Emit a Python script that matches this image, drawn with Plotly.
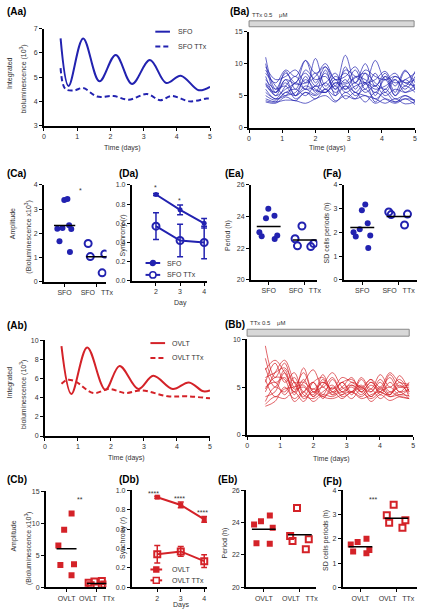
import plotly.graph_objects as go
import numpy as np

W, H = 426, 615
BLUE = "#2222b0"
RED = "#d42228"
FONT = "Liberation Sans, Arial, sans-serif"

# ---------------- data ----------------
# (Aa) SFO integrated bioluminescence (10^3)
aa_t_sfo = [0.5, 0.74, 1.18, 1.67, 2.16, 2.65, 3.19, 3.68, 4.12, 4.66, 5.0]
aa_sfo = [6.6, 4.63, 6.6, 4.83, 5.92, 4.72, 5.71, 4.76, 5.06, 4.46, 4.6]
aa_t_ttx = [0.5, 0.64, 0.9, 1.18, 1.6, 2.1, 2.55, 3.1, 3.5, 3.85, 4.4, 4.9, 5.0]
aa_ttx = [5.37, 4.52, 4.45, 4.55, 4.2, 4.22, 4.07, 4.3, 4.05, 4.22, 4.0, 4.12, 4.12]

# (Ba) single-cell SFO traces under TTx
ba_t = [0.5, 0.8, 1.1, 1.4, 1.7, 2.0, 2.3, 2.6, 2.9, 3.2, 3.5, 3.8, 4.1, 4.4, 4.7, 5.0]
ba_cells = [
    [11, 6, 8.5, 7, 10.5, 7, 9.5, 6.5, 11.3, 7, 10, 6.5, 8.5, 5.5, 8.8, 7],
    [8, 5, 7.5, 5, 8, 5.5, 9, 5, 9.5, 6, 8.5, 5, 8, 5, 7.5, 6],
    [4.5, 4, 4.3, 4.2, 3.8, 4.5, 5, 4, 5.5, 4.5, 5, 3.8, 4.5, 4, 4.5, 3.6],
    [7, 5.5, 8.8, 6, 9, 7.5, 8, 6, 9, 8, 7, 7.5, 8.8, 6.5, 9, 6],
    [6, 4.5, 6.5, 8, 6, 10.8, 6.5, 8, 7, 9, 6, 8.5, 5.5, 7.5, 6, 8],
    [10, 5.5, 7, 5, 6, 5.2, 7, 5.5, 6.5, 5, 6, 4.5, 5.5, 4, 5, 4.2],
    [5, 4.3, 5.5, 6, 5, 6.5, 5.5, 7, 6, 8, 7.5, 6.5, 8, 7, 7.5, 8.5],
    [9, 6.5, 5, 7, 6, 6.5, 8.5, 6, 7.5, 5.5, 7, 4, 6, 4.5, 5, 4],
    [4, 3.8, 4.8, 4.2, 5.5, 4.5, 6, 5, 6.5, 5.5, 5, 4.5, 3.8, 4.5, 3.7, 4],
    [8.5, 7, 9, 8, 10.5, 8.5, 9.5, 7.5, 8, 9.5, 7, 10.5, 7.5, 8, 7, 7.5],
    [6.5, 5.5, 7.5, 6.8, 7, 8.5, 6, 7.5, 5.5, 6.5, 7, 6, 6.5, 7.5, 5.5, 6.8],
    [7.5, 6, 6.5, 4.5, 5.5, 5, 6, 4.2, 5, 4.5, 6.8, 5.5, 7.5, 5, 6.5, 5.5],
    [5.5, 4.5, 5, 5.5, 7.5, 6, 5.5, 7, 6.8, 7.8, 8.5, 7, 6, 8, 7, 6.5],
    [9.5, 7.5, 8, 9, 7, 8, 10, 7.5, 8.5, 7, 9, 8, 7.5, 8.5, 6.5, 8.8],
    [6.8, 5, 6, 7, 8.5, 6.5, 7, 8.5, 6, 7, 5.5, 6.5, 5, 6, 5.5, 6],
    [4.2, 4, 5.5, 5, 6.5, 5.8, 5.5, 6.5, 4.5, 5.5, 4, 5.5, 4.5, 3.8, 4.5, 4.3],
]

# (Ca) amplitude
ca_sfo = [3.42, 3.38, 2.19, 2.18, 2.22, 2.33, 1.67, 1.23]
ca_ttx = [1.58, 1.15, 1.04, 0.37]
# (Da) synchrony
da_days = [2, 3, 4]
da_sfo = [0.90, 0.74, 0.60]
da_sfo_err = [0.01, 0.05, 0.05]
da_ttx = [0.57, 0.42, 0.40]
da_ttx_err = [0.14, 0.17, 0.17]
# (Ea) period
ea_sfo = [24.5, 23.9, 24.05, 22.8, 23.0, 22.75, 22.58]
ea_ttx = [23.4, 22.6, 22.1, 22.15, 22.3]
# (Fa) SD of cell periods
fa_sfo = [3.17, 2.93, 2.38, 2.13, 2.0, 1.87, 1.83, 1.34]
fa_ttx = [2.77, 2.75, 2.86, 2.31]

# (Ab) OVLT integrated bioluminescence
ab_t_ovlt = [0.5, 0.8, 1.28, 1.83, 2.26, 2.83, 3.28, 3.87, 4.36, 4.8, 5.0]
ab_ovlt = [9.38, 4.38, 9.24, 4.83, 7.31, 4.9, 6.28, 4.9, 5.59, 4.66, 4.76]
ab_t_ttx = [0.5, 0.67, 0.92, 1.46, 1.95, 2.44, 2.93, 3.72, 4.31, 5.0]
ab_ttx = [5.45, 5.86, 5.7, 4.48, 4.9, 4.48, 4.76, 4.14, 4.14, 3.93]

# (Bb) single-cell OVLT traces under TTx
bb_t = [0.55, 0.84, 1.13, 1.42, 1.7, 1.99, 2.28, 2.57, 2.86, 3.15, 3.44, 3.73, 4.01, 4.3, 4.59, 4.88]
bb_cells = [
    [9.3, 6, 7.5, 5, 6.5, 4.5, 5, 4.2, 5.5, 4.5, 5, 4, 5, 4, 4.5, 3.8],
    [6.8, 7.8, 6.5, 4.8, 5, 4.2, 6.3, 4.5, 5.5, 4.2, 5.8, 4.5, 5.5, 4.2, 6.2, 4.5],
    [3, 3.5, 5, 3.8, 4.5, 3.5, 4.2, 4, 4.5, 3.8, 4.8, 3.5, 4.2, 3.6, 4, 3.8],
    [5.5, 7.5, 5.5, 6.5, 4.5, 5.5, 4.2, 5.8, 4.5, 5.5, 5, 4.5, 5.8, 4.5, 5, 5.2],
    [4.5, 6.5, 7.8, 5.5, 4, 5.5, 6, 4.5, 5, 6, 4.5, 5.5, 4.8, 6, 4.5, 5.5],
    [3.5, 5, 4.5, 6, 4.2, 3.8, 4.5, 5.2, 4, 4.5, 5.2, 4, 4.8, 4.2, 5.5, 4],
    [8, 5.5, 6, 4.5, 7, 4.5, 5.5, 4.8, 6, 5.5, 5, 5.8, 4.2, 5.5, 4.5, 4.8],
    [4, 4.5, 6.5, 4.5, 5.5, 6.8, 5, 6, 4.5, 5, 4.2, 5.2, 4.5, 6.3, 5, 5],
    [5, 5.5, 4.2, 5.5, 3.8, 4.5, 4, 4.5, 3.8, 4.5, 4, 4.8, 3.8, 4.5, 4, 3.8],
    [6, 6.5, 7, 5.5, 5.5, 4.8, 5.5, 4.8, 5.5, 5.8, 4.8, 5.8, 5, 6.5, 5.5, 5.3],
    [3.2, 4, 3.8, 4.5, 3.5, 4.8, 4, 3.8, 4.2, 4.5, 3.8, 4.2, 4.5, 4, 4.2, 4.1],
    [7, 5, 6.8, 4.2, 5.8, 4, 5.2, 6.5, 5, 4.5, 6, 4.8, 6.3, 5, 5.8, 4.5],
    [4.8, 6, 5.8, 3.5, 4.5, 5.5, 3.8, 5, 4.2, 5.2, 4.5, 3.8, 4.5, 5, 4.2, 4.8],
    [5.8, 4, 4.8, 5, 5.2, 4, 5.8, 4.2, 4.8, 5.2, 4.5, 5.5, 4.5, 4.2, 5.2, 4.3],
]

# (Cb) amplitude
cb_ovlt = [11.56, 8.99, 6.52, 3.6, 3.5, 1.9]
cb_ttx = [1.0, 0.7, 0.3, 0.9, 0.45, 0.3]
# (Db) synchrony
db_days = [2, 3, 4]
db_ovlt = [0.93, 0.85, 0.70]
db_ovlt_err = [0.01, 0.03, 0.03]
db_ttx = [0.34, 0.37, 0.27]
db_ttx_err = [0.09, 0.05, 0.065]
# (Eb) period
eb_ovlt = [24.09, 24.44, 23.89, 23.68, 22.7, 22.72]
eb_ttx = [24.91, 22.97, 22.86, 23.17, 22.35]
# (Fb) SD of cell periods
fb_ovlt = [1.87, 1.77, 2.0, 1.54, 1.4, 1.48]
fb_ttx = [3.41, 2.97, 2.46, 2.66, 2.77]

sfo_labels = ["SFO", "SFO\u00a0\u00a0\u00a0TTx"]
ovlt_labels = ["OVLT", "OVLT\u00a0\u00a0\u00a0TTx"]

# ---------------- layout geometry (pixels) ----------------
geo = {
    1: ((43, 213), (25, 123), (0, 5), (3, 7), 1),
    2: ((253, 423), (28, 125), (0, 5), (0, 15), 5),
    3: ((43, 107), (183, 281), (-0.64, 1.3), (0, 4), 1),
    4: ((133, 210), (183, 280), (1, 4.12), (0, 1), 0.2),
    5: ((255, 323), (183, 279), (-0.49, 1.35), (20, 26), 2),
    6: ((350, 425), (183, 279), (-0.51, 1.51), (0, 4), 1),
    7: ((44, 213), (340, 437), (0, 5), (0, 10), 2),
    8: ((251, 421), (339, 436), (0, 5), (0, 10), 5),
    9: ((45, 107), (493, 590), (-0.68, 1.32), (0, 15), 5),
    10: ((133, 210), (492, 590), (0.92, 4.12), (0, 1), 0.2),
    11: ((250, 322), (492, 590), (-0.49, 1.46), (20, 26), 2),
    12: ((349, 425), (492, 590), (-0.49, 1.57), (0, 4), 1),
}

fig = go.Figure()
layout = dict(width=W, height=H, margin=dict(l=0, r=0, t=0, b=0),
              paper_bgcolor="white", plot_bgcolor="white", showlegend=False,
              font=dict(family=FONT, size=7, color="#333"))

def axname(i, a):
    return a + ("" if i == 1 else str(i))

for i, (xp, yp, xr, yr, dt) in geo.items():
    common = dict(showline=True, linecolor="black", linewidth=2, ticks="outside",
                  ticklen=3, tickwidth=1.2, tickcolor="black", showgrid=False,
                  zeroline=False, tickangle=0,
                  tickfont=dict(size=7, color="#333", family=FONT))
    xa = dict(common, domain=[xp[0] / W, xp[1] / W], range=list(xr),
              anchor=axname(i, "y"))
    if i in (1, 2, 7, 8):
        xa.update(tickvals=[0, 1, 2, 3, 4, 5])
    elif i in (4, 10):
        xa.update(tickvals=[2, 3, 4])
    elif i in (3, 5, 6):
        xa.update(tickvals=[0, 1], ticktext=sfo_labels)
    else:
        xa.update(tickvals=[0, 1], ticktext=ovlt_labels)
    ya = dict(common, domain=[1 - yp[1] / H, 1 - yp[0] / H], range=list(yr),
              anchor=axname(i, "x"), dtick=dt)
    if i in (4, 10):
        ya.update(tickformat=".1f")
    layout["xaxis" + ("" if i == 1 else str(i))] = xa
    layout["yaxis" + ("" if i == 1 else str(i))] = ya

def xy(i):
    return dict(xaxis=axname(i, "x"), yaxis=axname(i, "y"))

DASH = "5px,3px"

# ---- time-course panels ----
fig.add_trace(go.Scatter(x=aa_t_sfo, y=aa_sfo, mode="lines", name="SFO",
                         line=dict(color=BLUE, width=2, shape="spline"), **xy(1)))
fig.add_trace(go.Scatter(x=aa_t_ttx, y=aa_ttx, mode="lines", name="SFO TTx",
                         line=dict(color=BLUE, width=2, dash=DASH, shape="spline"), **xy(1)))
for c in ba_cells:
    fig.add_trace(go.Scatter(x=ba_t, y=c, mode="lines",
                             line=dict(color=BLUE, width=0.7, shape="spline"), **xy(2)))
fig.add_trace(go.Scatter(x=ab_t_ovlt, y=ab_ovlt, mode="lines", name="OVLT",
                         line=dict(color=RED, width=2, shape="spline"), **xy(7)))
fig.add_trace(go.Scatter(x=ab_t_ttx, y=ab_ttx, mode="lines", name="OVLT TTx",
                         line=dict(color=RED, width=2, dash=DASH, shape="spline"), **xy(7)))
for c in bb_cells:
    fig.add_trace(go.Scatter(x=bb_t, y=c, mode="lines",
                             line=dict(color=RED, width=0.7, shape="spline"), **xy(8)))

# ---- dot plots ----
def dots(i, vals, pos, color, symbol, size, open_):
    mk = dict(color=color, symbol=symbol, size=size)
    if open_:
        mk["line"] = dict(color=color, width=2)
    fig.add_trace(go.Box(x=[pos] * len(vals), y=vals, boxpoints="all", jitter=0.85,
                         pointpos=0, width=0.75, fillcolor="rgba(0,0,0,0)",
                         line=dict(width=0, color="rgba(0,0,0,0)"), marker=mk,
                         hoverinfo="y", **xy(i)))
    m = float(np.mean(vals))
    fig.add_trace(go.Scatter(x=[pos - 0.33, pos + 0.33], y=[m, m], mode="lines",
                             line=dict(color="black", width=1.5), **xy(i)))

for i, a, b in ((3, ca_sfo, ca_ttx), (5, ea_sfo, ea_ttx), (6, fa_sfo, fa_ttx)):
    dots(i, a, 0, BLUE, "circle", 6, False)
    dots(i, b, 1, BLUE, "circle-open", 7, True)
for i, a, b in ((9, cb_ovlt, cb_ttx), (11, eb_ovlt, eb_ttx), (12, fb_ovlt, fb_ttx)):
    dots(i, a, 0, RED, "square", 6, False)
    dots(i, b, 1, RED, "square-open", 6, True)

# ---- synchrony ----
def sync(i, days, v, err, name, color, symbol, size, open_):
    mk = dict(color=color, symbol=symbol, size=size)
    if open_:
        mk["line"] = dict(color=color, width=2)
    fig.add_trace(go.Scatter(x=days, y=v, mode="lines+markers", name=name,
                             line=dict(color=color, width=2), marker=mk,
                             error_y=dict(type="data", array=err, color=color,
                                          thickness=1.5, width=3),
                             cliponaxis=False, **xy(i)))

sync(4, da_days, da_sfo, da_sfo_err, "SFO", BLUE, "circle", 5, False)
sync(4, da_days, da_ttx, da_ttx_err, "SFO TTx", BLUE, "circle-open", 7, True)
sync(10, db_days, db_ovlt, db_ovlt_err, "OVLT", RED, "square", 5, False)
sync(10, db_days, db_ttx, db_ttx_err, "OVLT TTx", RED, "square-open", 6, True)

# ---- annotations ----
ann = []
def txt(s, x, y, size=7, angle=0, bold=False, xanchor="center", color="#333"):
    ann.append(dict(text=("<b>%s</b>" % s) if bold else s, x=x / W, y=1 - y / H,
                    xref="paper", yref="paper", showarrow=False, textangle=angle,
                    xanchor=xanchor, yanchor="middle",
                    font=dict(size=size, color=color, family=FONT)))

for lab, x, y in (("(Aa)", 3, 8), ("(Ba)", 231, 8), ("(Ca)", 3, 171), ("(Da)", 118, 171),
                  ("(Ea)", 226, 171), ("(Fa)", 327, 171), ("(Ab)", 3, 325),
                  ("(Bb)", 226, 324), ("(Cb)", 3, 481), ("(Db)", 118, 481),
                  ("(Eb)", 219, 481), ("(Fb)", 327, 483)):
    txt(lab, x, y, size=10, bold=True, xanchor="left", color="black")

for s, x, y in (("Integrated", 8, 70), ("bioluminescence (10<sup>3</sup>)", 22, 76),
                ("Amplitude", 12, 222), ("(Bioluminescence x10<sup>3</sup>)", 27, 235),
                ("Synchrony (<i>r</i>)", 124, 234), ("Period (h)", 232, 234),
                ("SD cells periods (h)", 333, 232),
                ("Integrated", 8, 383), ("bioluminescence (10<sup>3</sup>)", 22, 395),
                ("Amplitude", 12, 538), ("(Bioluminescence x10<sup>3</sup>)", 27, 550),
                ("Synchrony (<i>r</i>)", 124, 540), ("Period (h)", 228, 545),
                ("SD cells periods (h)", 332, 543)):
    txt(s, x, y, size=7, angle=-90)

for s, x, y in (("Time (days)", 123, 146), ("Time (days)", 333, 146),
                ("Time (days)", 128, 459), ("Time (days)", 337, 460),
                ("Day", 183, 302), ("Days", 183, 608)):
    txt(s, x, y, size=7)

for s, x, y in (("*", 80, 189), ("*", 157, 186), ("*", 182, 199),
                ("**", 80, 501), ("****", 155, 495), ("****", 182, 500),
                ("****", 205, 514), ("***", 380, 501)):
    txt(s, x, y, size=7)

txt("TTx 0.5\u00a0\u00a0\u00a0\u00a0\u03bcM", 254, 11, size=6, xanchor="left")
txt("TTx 0.5\u00a0\u00a0\u00a0\u00a0\u03bcM", 252, 323, size=6, xanchor="left")

shapes = []
for x0, x1, y0, y1 in ((253, 422, 17, 23), (251, 417, 329, 336)):
    shapes.append(dict(type="rect", xref="paper", yref="paper", x0=x0 / W, x1=x1 / W,
                       y0=1 - y1 / H, y1=1 - y0 / H, fillcolor="#d8d8d8",
                       line=dict(color="#888", width=1)))

# ---- hand-placed legends (paper coordinates) ----
def leg_item(x0, x1, y, color, label, tx, dash=None, marker=None, r=3):
    shapes.append(dict(type="line", xref="paper", yref="paper", x0=x0 / W, x1=x1 / W,
                       y0=1 - y / H, y1=1 - y / H,
                       line=dict(color=color, width=2, dash=dash or "solid")))
    if marker:
        cx = (x0 + x1) / 2
        kind = "circle" if marker.startswith("circle") else "rect"
        fill = "white" if marker.endswith("open") else color
        shapes.append(dict(type=kind, xref="paper", yref="paper",
                           x0=(cx - r) / W, x1=(cx + r) / W,
                           y0=1 - (y + r) / H, y1=1 - (y - r) / H,
                           fillcolor=fill, line=dict(color=color, width=1.5)))
    txt(label, tx, y, size=7, xanchor="left")

leg_item(157, 172, 28, BLUE, "SFO", 178)
leg_item(157, 172, 43, BLUE, "SFO TTx", 178, dash=DASH)
leg_item(152, 167, 343, RED, "OVLT", 172)
leg_item(152, 167, 358, RED, "OVLT TTx", 172, dash=DASH)
leg_item(147, 162, 262, BLUE, "SFO", 167, marker="circle", r=2.5)
leg_item(147, 162, 274, BLUE, "SFO TTx", 167, marker="circle-open", r=3.2)
leg_item(152, 164, 572, RED, "OVLT", 172, marker="square", r=2.5)
leg_item(152, 164, 583, RED, "OVLT TTx", 172, marker="square-open", r=3)

layout["annotations"] = ann
layout["shapes"] = shapes

fig.update_layout(**layout)
fig.write_html("out.html", config={"displayModeBar": False},
               post_script="document.body.style.margin='0';"
                           "document.body.style.overflow='hidden';")
